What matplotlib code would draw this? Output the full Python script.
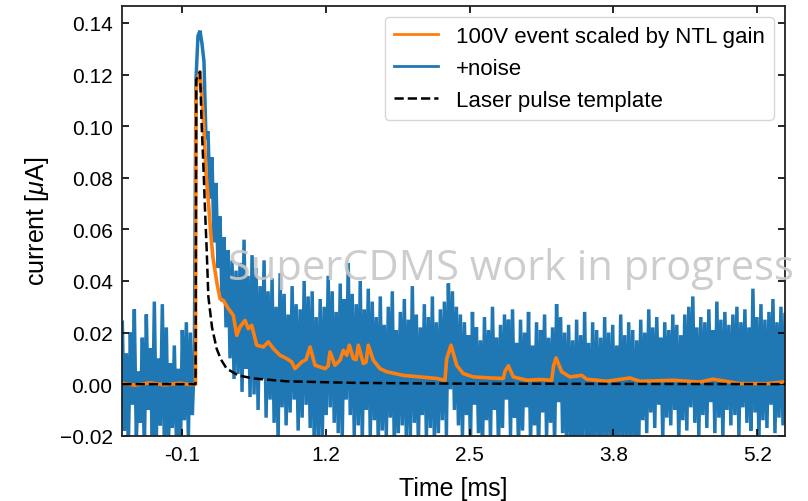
import numpy as np
import matplotlib
matplotlib.use("Agg")
import matplotlib.pyplot as plt
from matplotlib.ticker import FuncFormatter

plt.rcParams['font.family'] = ['Liberation Sans', 'DejaVu Sans']
plt.rcParams['mathtext.fontset'] = 'custom'
plt.rcParams['mathtext.rm'] = 'Liberation Sans'
plt.rcParams['mathtext.it'] = 'Liberation Sans:italic'

# ---------------- data (time in ms, current in uA) ----------------
# 100V event scaled by NTL gain (orange)
orange_t = [-0.653, -0.536, -0.398, -0.260, -0.121, -0.029, 0.022, 0.026, 0.036, 0.063,
            0.094, 0.118, 0.142, 0.165, 0.183, 0.220, 0.248, 0.278, 0.324, 0.370,
            0.402, 0.432, 0.478, 0.509, 0.540, 0.586, 0.647, 0.693, 0.739, 0.801,
            0.863, 0.909, 0.939, 1.001, 1.041, 1.078, 1.124, 1.216, 1.244, 1.262,
            1.308, 1.354, 1.385, 1.416, 1.440, 1.477, 1.502, 1.523, 1.569, 1.594,
            1.615, 1.661, 1.723, 1.785, 1.938, 2.092, 2.246, 2.322, 2.338, 2.378,
            2.430, 2.491, 2.583, 2.737, 2.860, 2.876, 2.906, 2.952, 3.076, 3.198,
            3.306, 3.323, 3.346, 3.398, 3.475, 3.583, 3.629, 3.813, 4.028, 4.120,
            4.425, 4.674, 4.793, 5.042, 5.289, 5.457]
orange_v = [0.0003, -0.0004, 0.0005, -0.0003, 0.0004, -0.0002, 0.0000, 0.112, 0.118, 0.1211,
            0.103, 0.082, 0.070, 0.057, 0.049, 0.039, 0.0331, 0.0325, 0.0293, 0.0267,
            0.0189, 0.0222, 0.0247, 0.0215, 0.0228, 0.0151, 0.0144, 0.0164, 0.0138, 0.0112,
            0.0099, 0.0086, 0.0060, 0.0086, 0.0095, 0.0144, 0.0073, 0.0060, 0.0070, 0.0125,
            0.0073, 0.0093, 0.0131, 0.0112, 0.0151, 0.0099, 0.0095, 0.0151, 0.0080, 0.0085,
            0.0151, 0.0093, 0.0060, 0.0048, 0.0034, 0.0028, 0.0022, 0.0015, 0.0099, 0.0151,
            0.0073, 0.0041, 0.0028, 0.0024, 0.0022, 0.0050, 0.0071, 0.0028, 0.0015, 0.0018,
            0.0015, 0.0070, 0.0102, 0.0048, 0.0028, 0.0034, 0.0019, 0.0011, 0.0024, 0.0011,
            0.0015, 0.0008, 0.0019, 0.0002, 0.0002, 0.0009]

# Laser pulse template (black dashed)
template_t = [-0.653, 0.022, 0.029, 0.063, 0.079, 0.094, 0.109, 0.125, 0.140, 0.174,
              0.217, 0.257, 0.309, 0.416, 0.555, 0.863, 1.474, 2.368, 5.457]
template_v = [0.0, 0.0, 0.118, 0.121, 0.100, 0.085, 0.068, 0.052, 0.034, 0.022,
              0.0137, 0.0095, 0.0060, 0.0034, 0.0022, 0.0011, 0.0005, 0.0002, 0.0]

# +noise trace (blue), sampled uniformly; values in nA (1e-3 uA)
noise_pre_range = (-0.653, 0.011)
noise_pre_nA = [24, -18, 12, -25, 20, -8, 29, -22, 5, -15, 18, -27, 27, -10, 14, -24,
                32, -20, 10, -16, 31, -23, 22, -26, 8, -17, 15, -21, 6, -28, 21, -14,
                24, -21, 20, -12, 11]
noise_post_range = (0.026, 5.457)
noise_post_nA = [118, 135, 137, 132, 125, 95, 98, 72, 88, 55, 78, 45, 65, 32, 57, 22, 52, 10,
                 48, 2, 44, 4, 47, -3, 56, 6, 42, -5, 50,
                 -4, 45, -10, 38, 2, 48, -13, 36, -6, 41, -15, 30, -22, 43, -9, 35, -16, 27,
                 -11, 38, -6, 31, -18, 29, -13, 40, -8, 34, -17, 36, -23, 26, -21, 33, -24, 30,
                 -12, 42, -9, 36, -15, 28, -19, 39, -22, 33, -6, 47, -12, 35, -20, 31, -16, 40,
                 -23, 29, -10, 37, -21, 32, -14, 26, -24, 34, -18, 23, -21, 30, -13, 36, -25, 21,
                 -19, 28, -16, 33, -22, 25, -20, 38, -15, 27, -24, 22, -12, 31, -21, 26, -17, 34,
                 -23, 24, -19, 29, -14, 32, -20, 39, -2, 36, -10, 30, -16, 27, -21,
                 24, -12, 19, -24, 28, -8, 22, -19, 17, -27, 26, -14, 21, -22, 30, -10,
                 18, -25, 23, -17, 27, -6, 25, -20, 29, -13, 16, -26, 25, -18, 20, -9,
                 28, -23, 15, -16, 24, -28, 21, -11, 27, -21, 18, -15, 22, -24, 31, -7,
                 26, -19, 20, -26, 23, -22, 17, -29, 25, -24, 19, -27, 28, -21, 16, -30,
                 24, -25, 21, -23, 18, -28, 26, -22, 20, -26, 23, -24, 15, -29, 27, -21,
                 19, -27, 24, -23, 21, -26, 17, -24, 25, -14, 20, -19, 29, -11, 22, -17,
                 26, -8, 18, -21, 24, -13, 21, -16, 27, -10, 23, -22, 19, -14, 27, -18,
                 30, -9, 34, -15, 22, -20, 26, -12, 24, -17, 29, -7, 21, -19, 32, -13,
                 25, -21, 28, -10, 23, -16, 27, -12, 30, -20, 24, -9, 29, -15, 22, -18,
                 37, -11, 26, -22, 31, -14, 25, -17, 28, -8, 33, -19, 24, -13, 30, -16, 27]

xtick_pos = [-0.1, 1.225, 2.55, 3.875, 5.2]
xtick_labels = ['-0.1', '1.2', '2.5', '3.8', '5.2']
ytick_vals = [-0.02, 0.00, 0.02, 0.04, 0.06, 0.08, 0.10, 0.12, 0.14]

# ---------------- figure ----------------
fig = plt.figure(figsize=(8.08, 5.02), dpi=100)
ax = fig.add_axes([0.1514, 0.130, 0.8201, 0.8567])

pre_t = np.linspace(noise_pre_range[0], noise_pre_range[1], len(noise_pre_nA))
post_t = np.linspace(noise_post_range[0], noise_post_range[1], len(noise_post_nA))
blue_t = np.concatenate([pre_t, post_t])
blue_v = np.concatenate([noise_pre_nA, noise_post_nA]) / 1000.0

l_blue, = ax.plot(blue_t, blue_v, color='#1f77b4', lw=2.5, zorder=1, label='+noise',
                  solid_joinstyle='miter')
l_orange, = ax.plot(orange_t, orange_v, color='#ff7f0e', lw=2.6, zorder=2,
                    label='100V event scaled by NTL gain')
l_temp, = ax.plot(template_t, template_v, color='black', lw=1.8, ls='--', zorder=3,
                  label='Laser pulse template')

ax.set_xlim(-0.653, 5.457)
ax.set_ylim(-0.02, 0.1467)
ax.set_xticks(xtick_pos)
ax.set_xticklabels(xtick_labels)
ax.set_yticks(ytick_vals)
ax.yaxis.set_major_formatter(FuncFormatter(lambda v, p: f'{v:.2f}'.replace('-', '\u2212')))
ax.tick_params(direction='in', top=True, right=True, labelsize=15, length=5, width=1.2, pad=7)
for s in ax.spines.values():
    s.set_linewidth(1.3)
    s.set_color('#222222')

ax.set_xlabel('Time [ms]', fontsize=18, labelpad=8)
ax.set_ylabel(r'current [$\mu$A]', fontsize=18, labelpad=6)

leg = ax.legend(handles=[l_orange, l_blue, l_temp], loc='upper right', fontsize=16,
                framealpha=0.8, handlelength=2.0)
leg.legend_handles[0].set_linewidth(2.0)
leg.legend_handles[1].set_linewidth(2.0)

ax.text(0.1595, 0.3644, 'SuperCDMS work in progress', transform=ax.transAxes,
        fontsize=30, family='Open Sans', color='#c8c8c8', alpha=0.9,
        ha='left', va='baseline', clip_on=False, zorder=5)

fig.savefig('out.png', dpi=100)
